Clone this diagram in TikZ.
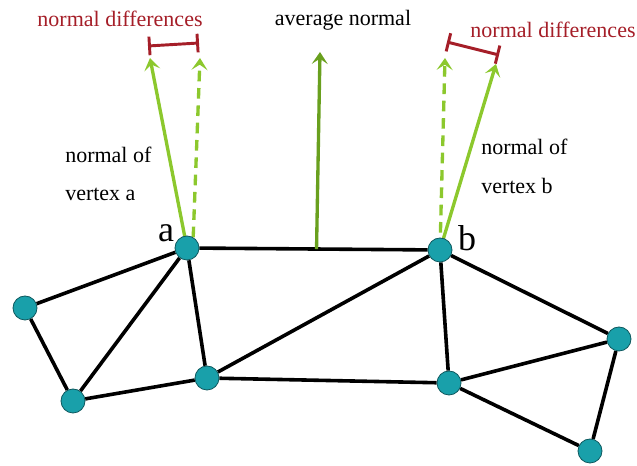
\documentclass[tikz,border=0pt]{standalone}
\usepackage{fontspec}
\setmainfont{Liberation Serif}
\usetikzlibrary{arrows.meta,backgrounds,positioning}
\definecolor{vtxteal}{RGB}{25,160,170}
\definecolor{leafgreen}{RGB}{140,200,45}
\definecolor{olivegreen}{RGB}{105,160,30}
\definecolor{diffred}{RGB}{165,30,40}

\begin{document}
\begin{tikzpicture}[x=0.75pt,y=-0.75pt,
    >={Stealth[length=9pt,width=12pt,inset=4pt]},
    vtx/.style={circle,fill=vtxteal,draw=vtxteal!55!black,line width=0.6pt,
      minimum size=18pt,inner sep=0pt},
    meshedge/.style={line width=2.7pt},
    normalarrow/.style={->,leafgreen,line width=2.5pt},
    diffbar/.style={{Bar[width=14pt]}-{Bar[width=14pt]},diffred,line width=2.2pt},
    lbl/.style={font=\fontsize{16.5}{19}\selectfont,inner sep=0pt}]
  \useasboundingbox (0,0) rectangle (637,466);
  % mesh vertices
  \node[vtx] (a) at (187,248) {};
  \node[vtx] (b) at (440,250) {};
  \node[vtx] (l) at (25,308) {};
  \node[vtx] (bl) at (73,401) {};
  \node[vtx] (m) at (207,378) {};
  \node[vtx] (br) at (449,383) {};
  \node[vtx] (r) at (619,339) {};
  \node[vtx] (bb) at (590,451) {};
  \node[font=\fontsize{27}{29}\selectfont,inner sep=0pt] (la) at (166,233) {a};
  \node[font=\fontsize{27}{29}\selectfont,inner sep=0pt] (lb) at (467,238) {b};
  % mesh edges
  \begin{scope}[on background layer]
    \draw[meshedge] (a) -- (b) (a) -- (l) (a) -- (bl) (a) -- (m)
      (l) -- (bl) (bl) -- (m) (m) -- (b) (m) -- (br)
      (b) -- (br) (b) -- (r) (br) -- (r) (br) -- (bb) (r) -- (bb);
    % normals
    \path (a.center) -- (b.center) coordinate[pos=0.512] (avg);
    \coordinate (na) at (150,58);
    \coordinate (nad) at (200,58);
    \coordinate (nb) at (496,64);
    \coordinate (nbd) at (445,58);
    \coordinate (nav) at (320,52);
    \draw[normalarrow] (a.center) -- (na);
    \draw[normalarrow,dash pattern=on 8pt off 5pt] (a.60) -- (nad);
    \draw[normalarrow] (b.center) -- (nb);
    \draw[normalarrow,dash pattern=on 8pt off 5pt] (b.center) -- (nbd);
    \draw[normalarrow,olivegreen] (avg) -- (nav);
  \end{scope}
  % differences
  \coordinate (da) at (148,46);
  \coordinate (dad) at (199,43);
  \coordinate (db) at (447,42);
  \coordinate (dbd) at (499,55);
  \draw[diffbar] (da) -- (dad);
  \draw[diffbar] (db) -- (dbd);
  % labels
  \node[lbl,diffred] (tda) at (120,19) {normal differences};
  \node[lbl,diffred] (tdb) at (553,30) {normal differences};
  \node[lbl] (tav) at (343,20) {average normal};
  \node[lbl,anchor=west] (tna) at (65,155) {normal of};
  \node[lbl,anchor=west] (tva) at (65,194) {vertex a};
  \node[lbl,anchor=west] (tnb) at (481,147) {normal of};
  \node[lbl,anchor=west] (tvb) at (481,186) {vertex b};
\end{tikzpicture}
\end{document}
